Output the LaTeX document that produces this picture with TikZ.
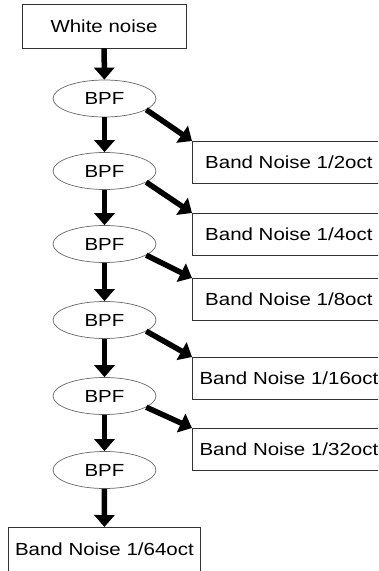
\documentclass[tikz,border=0pt]{standalone}
\usepackage{fontspec}
\setmainfont{Liberation Sans}[FakeStretch=1.17]
\usetikzlibrary{arrows.meta,shapes.geometric}
\begin{document}
\begin{tikzpicture}[x=1pt,y=-1pt,
  every node/.style={font=\fontsize{17.5}{20}\selectfont, inner sep=0pt},
  rbox/.style={draw=black!80, line width=0.8pt, rectangle},
  bpf/.style={draw=black!60, line width=0.7pt, ellipse, minimum width=103pt, minimum height=37pt},
  flow/.style={line width=5.5pt, -{Triangle[length=12pt,width=20pt]}, shorten >=0pt},
  outbox/.style={rbox, anchor=north west, minimum width=193pt, minimum height=42pt}]
  \useasboundingbox (0,0) rectangle (378,571);
  \clip (0,0) rectangle (378,571);

  % source
  \node[rbox, minimum width=164pt, minimum height=44pt] (src) at (104,26) {White noise};

  % filter chain
  \node[bpf] (e1) at (104.5,98.5) {BPF};
  \node[bpf] (e2) at (104.5,171) {BPF};
  \node[bpf] (e3) at (104.5,244) {BPF};
  \node[bpf] (e4) at (104.5,320) {BPF};
  \node[bpf] (e5) at (104.5,396) {BPF};
  \node[bpf] (e6) at (104.5,470) {BPF};

  % band outputs
  \node[outbox] (b1) at (192,141) {Band Noise 1/2oct};
  \node[outbox] (b2) at (192,213) {Band Noise 1/4oct};
  \node[outbox] (b3) at (192,278) {Band Noise 1/8oct};
  \node[outbox] (b4) at (192,357) {Band Noise 1/16oct};
  \node[outbox] (b5) at (192,428) {Band Noise 1/32oct};
  \node[rbox, anchor=north west, minimum width=192pt, minimum height=44pt] (b6) at (8,527) {Band Noise 1/64oct};

  % vertical flow
  \draw[flow] (src) -- (e1);
  \draw[flow] (e1) -- (e2);
  \draw[flow] (e2) -- (e3);
  \draw[flow] (e3) -- (e4);
  \draw[flow] (e4) -- (e5);
  \draw[flow] (e5) -- (e6);
  \draw[flow] (e6) -- (b6);

  % side outputs
  \draw[flow] (e1.-15) -- (b1.north west);
  \draw[flow] (e2.-15) -- (b2.north west);
  \draw[flow] (e3.-15) -- (b3.north west);
  \draw[flow] (e4.-15) -- (b4.north west);
  \draw[flow] (e5.-15) -- (b5.north west);
\end{tikzpicture}
\end{document}
